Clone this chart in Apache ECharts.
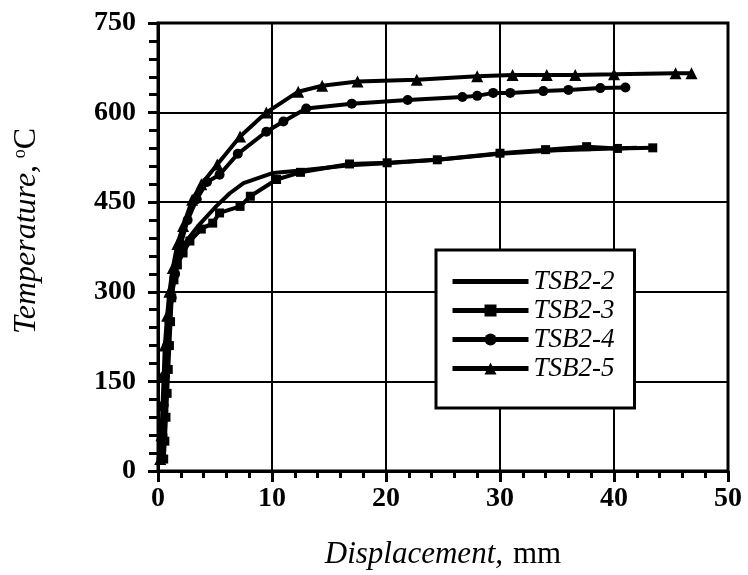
<!DOCTYPE html>
<html>
<head>
<meta charset="utf-8">
<script src="https://cdn.jsdelivr.net/npm/echarts@6/dist/echarts.min.js"></script>
<style>
  html, body { margin: 0; padding: 0; background: #fff; }
  #chart { width: 748px; height: 575px; }
</style>
</head>
<body>
<div id="chart"></div>
<script>
// 数据
const xTicks = [0, 10, 20, 30, 40, 50];
const yTicks = [0, 150, 300, 450, 600, 750];

const tsb22X = [0.4, 0.5, 0.6, 0.7, 0.8, 1.0, 1.2, 1.5, 1.9, 2.5, 3.5, 5.1, 6.3, 7.5, 10.1, 12.5, 16.8, 20, 25, 30, 35, 40, 42];
const tsb22Y = [20, 60, 110, 160, 210, 260, 300, 330, 360, 385, 410, 443, 465, 482, 499, 503, 512, 515, 522, 531, 537, 540, 541];

const tsb23X = [0.5, 0.6, 0.7, 0.8, 0.9, 1.0, 1.1, 1.2, 1.4, 1.7, 2.2, 2.8, 3.8, 4.8, 5.4, 7.2, 8.1, 10.4, 12.5, 16.8, 20.1, 24.5, 30.0, 34.0, 37.6, 40.3, 43.4];
const tsb23Y = [20, 50, 90, 130, 170, 210, 250, 290, 320, 345, 365, 385, 405, 415, 432, 443, 460, 488, 500, 514, 516, 521, 532, 538, 543, 540, 541];

const tsb24X = [0.3, 0.4, 0.5, 0.6, 0.8, 1.0, 1.2, 1.5, 2.0, 2.6, 3.4, 4.3, 5.4, 7.0, 9.5, 11.0, 13.0, 17.0, 21.9, 26.7, 28.0, 29.4, 30.9, 33.8, 36.0, 38.8, 41.0];
const tsb24Y = [20, 60, 110, 160, 210, 250, 290, 330, 380, 420, 455, 484, 496, 531, 568, 585, 607, 615, 621, 626, 628, 633, 633, 636, 638, 641, 642];

const tsb25X = [0.2, 0.3, 0.4, 0.5, 0.6, 0.8, 1.0, 1.3, 1.7, 2.2, 3.0, 3.8, 5.2, 7.2, 9.5, 12.3, 14.4, 17.5, 22.7, 28.0, 31.1, 34.1, 36.6, 40.0, 45.4, 46.8];
const tsb25Y = [20, 60, 110, 160, 210, 260, 300, 340, 380, 410, 454, 480, 513, 560, 600, 635, 645, 652, 655, 661, 663, 663, 663, 664, 666, 666];

function zip(xs, ys) {
  return xs.map((x, i) => [x, ys[i]]);
}

const serif = '"Liberation Serif", "DejaVu Serif", serif';

function lineSeries(name, data, symbol, size) {
  return {
    name: name,
    type: 'line',
    data: data,
    symbol: symbol,
    symbolSize: size,
    showSymbol: symbol !== 'none',
    lineStyle: { color: '#000', width: 4 },
    itemStyle: { color: '#000' },
    emphasis: { disabled: true },
    animation: false
  };
}

const myChart = echarts.init(document.getElementById('chart'));
const option = {
  backgroundColor: '#fff',
  animation: false,
  grid: {
    left: 158, right: 20, top: 23, bottom: 103,
    show: true, borderColor: '#000', borderWidth: 3
  },
  legend: {
    orient: 'vertical',
    left: 436, top: 250,
    padding: [18, 20, 26, 14],
    itemGap: 2,
    itemWidth: 76, itemHeight: 15,
    backgroundColor: '#fff',
    borderColor: '#000', borderWidth: 3,
    borderRadius: 0,
    lineStyle: { width: 5, color: '#000' },
    itemStyle: { color: '#000' },
    textStyle: { fontFamily: serif, fontStyle: 'italic', fontSize: 27, color: '#000' },
    data: [
      // 没有标记的线，只画一条粗线
      { name: 'TSB2-2', icon: 'path://M0,0L76,0L76,5L0,5Z' },
      'TSB2-3', 'TSB2-4', 'TSB2-5'
    ]
  },
  xAxis: {
    type: 'value',
    min: xTicks[0], max: xTicks[xTicks.length - 1], interval: 10,
    name: '{i|Displacement,}   {n|mm}',
    nameLocation: 'middle',
    nameGap: 68,
    nameTextStyle: {
      rich: {
        i: { fontFamily: serif, fontStyle: 'italic', fontSize: 31, color: '#000' },
        n: { fontFamily: serif, fontSize: 31, color: '#000' }
      }
    },
    axisLine: { show: true, lineStyle: { color: '#000', width: 3 } },
    axisTick: { show: true, length: 11, lineStyle: { color: '#000', width: 3 } },
    minorTick: { show: true, splitNumber: 5, length: 7, lineStyle: { color: '#000', width: 3 } },
    splitLine: { show: true, lineStyle: { color: '#000', width: 2 } },
    axisLabel: {
      margin: 14,
      fontFamily: serif, fontWeight: 'bold', fontSize: 28, color: '#000',
      formatter: v => xTicks.includes(v) ? String(v) : ''
    }
  },
  yAxis: {
    type: 'value',
    min: yTicks[0], max: yTicks[yTicks.length - 1], interval: 150,
    name: '{i|Temperature,}  {s|o}{n|C}',
    nameLocation: 'middle',
    nameGap: 115,
    nameRotate: 90,
    nameTextStyle: {
      padding: [0, 0, 0, 32],
      rich: {
        i: { fontFamily: serif, fontStyle: 'italic', fontSize: 32, color: '#000' },
        s: { fontFamily: serif, fontSize: 18, color: '#000', verticalAlign: 'top', padding: [0, 0, 14, 0] },
        n: { fontFamily: serif, fontSize: 32, color: '#000' }
      }
    },
    axisLine: { show: true, lineStyle: { color: '#000', width: 3 } },
    axisTick: { show: true, length: 10, lineStyle: { color: '#000', width: 3 } },
    minorTick: { show: true, splitNumber: 5, length: 9, lineStyle: { color: '#000', width: 3 } },
    splitLine: { show: true, lineStyle: { color: '#000', width: 2 } },
    axisLabel: {
      margin: 22,
      fontFamily: serif, fontWeight: 'bold', fontSize: 28, color: '#000',
      formatter: v => yTicks.includes(v) ? String(v) : ''
    }
  },
  series: [
    lineSeries('TSB2-2', zip(tsb22X, tsb22Y), 'none', 0),
    lineSeries('TSB2-3', zip(tsb23X, tsb23Y), 'rect', 9),
    lineSeries('TSB2-4', zip(tsb24X, tsb24Y), 'circle', 10),
    lineSeries('TSB2-5', zip(tsb25X, tsb25Y), 'triangle', 12)
  ]
};
myChart.setOption(option);
window.addEventListener('resize', () => { myChart.resize(); });
</script>
</body>
</html>
